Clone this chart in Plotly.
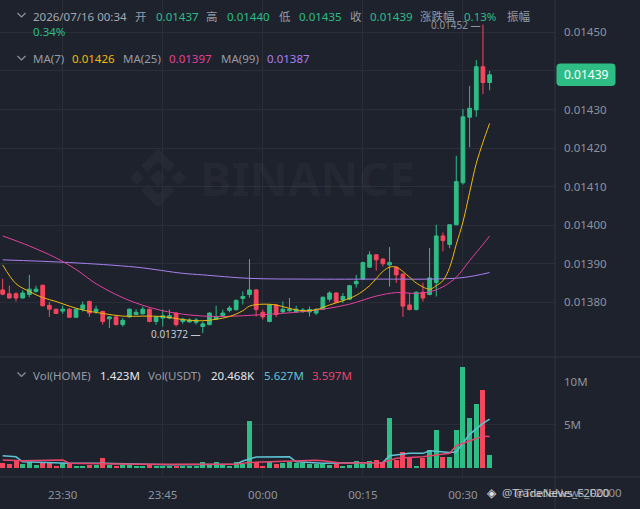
import pandas as pd
import plotly.graph_objects as go

# 1-minute candles, 23:21 -> 00:34
times = pd.date_range("2026-07-15 23:21", periods=74, freq="min")

open_ = [0.013832, 0.013822, 0.013822, 0.013811, 0.013820, 0.013828, 0.013844, 0.013792, 0.013782, 0.013777,
         0.013782, 0.013761, 0.013782, 0.013802, 0.013776, 0.013776, 0.013757, 0.013762, 0.013742, 0.013762,
         0.013768, 0.013770, 0.013782, 0.013750, 0.013759, 0.013759, 0.013772, 0.013750, 0.013749, 0.013748,
         0.013737, 0.013742, 0.013756, 0.013765, 0.013779, 0.013781, 0.013810, 0.013820, 0.013832, 0.013774,
         0.013750, 0.013793, 0.013775, 0.013778, 0.013775, 0.013776, 0.013775, 0.013772, 0.013782, 0.013808,
         0.013824, 0.013806, 0.013808, 0.013848, 0.013860, 0.013891, 0.013923, 0.013912, 0.013897, 0.013891,
         0.013873, 0.013793, 0.013781, 0.013826, 0.013820, 0.013851, 0.013972, 0.013950, 0.014001, 0.014110,
         0.014280, 0.014299, 0.014411, 0.014370]
high = [0.013861, 0.013843, 0.013826, 0.013831, 0.013871, 0.013843, 0.013846, 0.013801, 0.013783, 0.013791,
        0.013785, 0.013784, 0.013802, 0.013804, 0.013791, 0.013778, 0.013764, 0.013764, 0.013759, 0.013784,
        0.013782, 0.013789, 0.013784, 0.013764, 0.013781, 0.013781, 0.013774, 0.013760, 0.013758, 0.013759,
        0.013750, 0.013774, 0.013791, 0.013781, 0.013791, 0.013807, 0.013828, 0.013912, 0.013834, 0.013781,
        0.013795, 0.013795, 0.013802, 0.013811, 0.013791, 0.013785, 0.013789, 0.013785, 0.013815, 0.013828,
        0.013826, 0.013824, 0.013845, 0.013871, 0.013905, 0.013932, 0.013925, 0.013914, 0.013943, 0.013893,
        0.013875, 0.013824, 0.013828, 0.013851, 0.013941, 0.014001, 0.013981, 0.014001, 0.014180, 0.014301,
        0.014361, 0.014428, 0.014520, 0.014400]
low = [0.013818, 0.013810, 0.013802, 0.013810, 0.013813, 0.013825, 0.013789, 0.013762, 0.013770, 0.013770,
       0.013759, 0.013760, 0.013776, 0.013762, 0.013770, 0.013742, 0.013733, 0.013740, 0.013737, 0.013760,
       0.013767, 0.013768, 0.013748, 0.013742, 0.013737, 0.013756, 0.013737, 0.013744, 0.013747, 0.013742,
       0.013720, 0.013740, 0.013754, 0.013762, 0.013774, 0.013778, 0.013794, 0.013812, 0.013763, 0.013755,
       0.013748, 0.013762, 0.013772, 0.013776, 0.013772, 0.013772, 0.013763, 0.013767, 0.013780, 0.013802,
       0.013798, 0.013798, 0.013806, 0.013838, 0.013858, 0.013889, 0.013882, 0.013893, 0.013841, 0.013850,
       0.013762, 0.013779, 0.013779, 0.013802, 0.013818, 0.013815, 0.013932, 0.013940, 0.014000, 0.014105,
       0.014202, 0.014281, 0.014340, 0.014350]
close = [0.013821, 0.013811, 0.013811, 0.013824, 0.013834, 0.013834, 0.013791, 0.013782, 0.013771, 0.013782,
         0.013761, 0.013782, 0.013793, 0.013772, 0.013782, 0.013750, 0.013762, 0.013742, 0.013753, 0.013782,
         0.013774, 0.013782, 0.013750, 0.013762, 0.013765, 0.013765, 0.013742, 0.013756, 0.013754, 0.013754,
         0.013744, 0.013772, 0.013763, 0.013772, 0.013785, 0.013805, 0.013815, 0.013832, 0.013781, 0.013762,
         0.013793, 0.013768, 0.013782, 0.013782, 0.013782, 0.013780, 0.013781, 0.013781, 0.013813, 0.013824,
         0.013800, 0.013815, 0.013843, 0.013854, 0.013903, 0.013923, 0.013910, 0.013900, 0.013903, 0.013871,
         0.013790, 0.013781, 0.013826, 0.013811, 0.013863, 0.013972, 0.013960, 0.014001, 0.014113, 0.014281,
         0.014303, 0.014411, 0.014370, 0.014390]

# volume in millions
volume_m = [0.50, 0.39, 0.89, 0.39, 0.70, 0.31, 0.62, 0.62, 0.23, 0.47,
            0.39, 0.23, 0.23, 0.31, 0.31, 1.09, 0.31, 0.23, 0.31, 0.31,
            0.12, 0.23, 0.31, 0.23, 0.23, 0.19, 0.23, 0.19, 0.12, 0.19,
            0.62, 0.31, 0.70, 0.31, 0.23, 0.62, 0.39, 5.43, 0.70, 0.23,
            0.78, 0.39, 0.47, 0.62, 0.47, 0.47, 0.39, 0.39, 0.39, 0.31,
            0.39, 0.23, 0.31, 0.78, 0.39, 0.78, 0.89, 0.62, 5.81, 0.89,
            1.78, 1.28, 0.23, 1.16, 2.05, 4.38, 1.28, 1.28, 4.38, 11.74,
            5.74, 7.36, 9.03, 1.423]

# moving-average lines (candle index -> value)
ma7_idx = [0, 2, 4, 6, 8, 10, 12, 15, 18, 21, 24, 27, 30, 32, 34, 36, 37, 39, 41, 43, 45, 47, 49,
           51, 53, 55, 57, 58, 59, 61, 62, 64, 65, 66, 67, 68, 69, 70, 71, 72, 73]
ma7_val = [0.013897, 0.013848, 0.013828, 0.013812, 0.013802, 0.013790, 0.013780, 0.013771, 0.013764,
           0.013764, 0.013763, 0.013755, 0.013752, 0.013756, 0.013763, 0.013778, 0.013790, 0.013795,
           0.013793, 0.013784, 0.013778, 0.013781, 0.013793, 0.013804, 0.013818, 0.013843, 0.013880,
           0.013891, 0.013891, 0.013865, 0.013850, 0.013834, 0.013843, 0.013856, 0.013890, 0.013950,
           0.014008, 0.014085, 0.014160, 0.014215, 0.014264]
ma25_idx = [0, 4, 8, 11, 14, 17, 20, 24, 28, 32, 36, 40, 44, 48, 52, 56, 59, 62, 64, 66, 68, 70, 72, 73]
ma25_val = [0.013972, 0.013946, 0.013915, 0.013885, 0.013848, 0.013820, 0.013798, 0.013778, 0.013767,
            0.013763, 0.013765, 0.013769, 0.013774, 0.013782, 0.013795, 0.013816, 0.013825, 0.013823,
            0.013827, 0.013840, 0.013865, 0.013908, 0.013950, 0.013972]
ma99_idx = [0, 10, 20, 27, 30, 37, 46, 56, 60, 64, 69, 73]
ma99_val = [0.013910, 0.013903, 0.013891, 0.013875, 0.013871, 0.013862, 0.013860, 0.013860, 0.013860,
            0.013860, 0.013864, 0.013877]

vma5_idx = [0, 2, 3, 10, 15, 20, 25, 35, 36, 38, 43, 44, 47, 48, 57, 58, 61, 63, 64, 67, 68, 70, 72, 73]
vma5_val = [1.37, 1.25, 0.67, 0.50, 0.50, 0.39, 0.31, 0.39, 0.76, 1.22, 1.25, 0.67, 0.60, 0.50, 0.60,
            1.37, 1.65, 1.65, 1.95, 1.75, 1.80, 3.86, 5.14, 5.63]
vma10_idx = [0, 3, 9, 10, 20, 35, 37, 45, 47, 48, 51, 57, 59, 63, 67, 68, 70, 72, 73]
vma10_val = [0.87, 0.78, 0.87, 0.50, 0.39, 0.39, 0.60, 0.78, 0.85, 0.78, 0.50, 0.60, 1.07, 1.25, 1.65,
             2.54, 3.08, 3.65, 3.60]

price_ticks = [0.0138, 0.0139, 0.0140, 0.0141, 0.0142, 0.0143, 0.0144, 0.0145]
time_ticks = ["2026-07-15 23:30", "2026-07-15 23:45", "2026-07-16 00:00", "2026-07-16 00:15", "2026-07-16 00:30"]

BG = "#1e222d"
GRID = "#2a2e39"
SEP = "#2f3440"
GREEN = "#2ebd85"
RED = "#f6465d"
GRAY = "#8d939e"
FONT = "Noto Sans, Noto Sans CJK SC, sans-serif"

PW, PH = 555, 477  # plot area in pixels


def px(x):
	return x / PW


def py(y):
	return (PH - y) / PH


fig = go.Figure()

fig.add_trace(go.Candlestick(
	x=times, open=open_, high=high, low=low, close=close,
	increasing=dict(line=dict(color=GREEN, width=1), fillcolor=GREEN),
	decreasing=dict(line=dict(color=RED, width=1), fillcolor=RED),
	whiskerwidth=0, yaxis="y", showlegend=False, hoverinfo="skip"))

for idx, vals, clr in [(ma99_idx, ma99_val, "#a97ff0"),
                       (ma25_idx, ma25_val, "#e3409c"),
                       (ma7_idx, ma7_val, "#f0b90b")]:
	fig.add_trace(go.Scatter(x=times[idx], y=vals, mode="lines", yaxis="y",
	                         line=dict(color=clr, width=1, shape="spline"),
	                         showlegend=False, hoverinfo="skip"))

bar_colors = [GREEN if c >= o else RED for o, c in zip(open_, close)]
fig.add_trace(go.Bar(x=times, y=[v * 1e6 for v in volume_m], marker=dict(color=bar_colors, line_width=0),
                     width=45000, yaxis="y2", showlegend=False, hoverinfo="skip"))
fig.add_trace(go.Scatter(x=times[vma5_idx], y=[v * 1e6 for v in vma5_val], mode="lines", yaxis="y2",
                         line=dict(color="#5ec3d3", width=1.5), showlegend=False, hoverinfo="skip"))
fig.add_trace(go.Scatter(x=times[vma10_idx], y=[v * 1e6 for v in vma10_val], mode="lines", yaxis="y2",
                         line=dict(color="#e8456c", width=1.5), showlegend=False, hoverinfo="skip"))

split = py(357)
fig.update_layout(
	width=640, height=509, paper_bgcolor=BG, plot_bgcolor=BG,
	margin=dict(l=0, r=640 - PW, t=0, b=509 - PH),
	font=dict(family=FONT, size=11.5, color=GRAY),
	bargap=0, boxgap=0.2,
	xaxis=dict(domain=[0, 1], anchor="y2", type="date",
	           range=[pd.Timestamp("2026-07-15 23:20:36"), pd.Timestamp("2026-07-16 00:43:48")],
	           tickvals=time_ticks, tickformat="%H:%M", showgrid=True, gridcolor=GRID, gridwidth=1,
	           zeroline=False, showline=False, ticks="", ticklabelstandoff=9,
	           rangeslider=dict(visible=False), fixedrange=True),
	yaxis=dict(domain=[split, 1], side="right", anchor="x", range=[0.013658, 0.014584],
	           tickvals=price_ticks, tickformat=".5f", showgrid=True, gridcolor=GRID,
	           zeroline=False, showline=False, ticks="", ticklabelstandoff=8),
	yaxis2=dict(domain=[0, split], side="right", anchor="x", range=[-1.1e6, 12.85e6],
	            tickvals=[5e6, 10e6], ticktext=["5M", "10M"], showgrid=False,
	            zeroline=False, showline=False, ticks="", ticklabelstandoff=8),
)

shapes = [
	dict(type="line", xref="paper", yref="y2", x0=0, x1=1, y0=5e6, y1=5e6, line=dict(color=GRID, width=1), layer="below"),
	dict(type="line", xref="paper", yref="paper", x0=0, x1=px(640), y0=py(357), y1=py(357), line=dict(color=SEP, width=1)),
	dict(type="line", xref="paper", yref="paper", x0=0, x1=px(640), y0=py(477), y1=py(477), line=dict(color=SEP, width=1)),
	dict(type="line", xref="paper", yref="paper", x0=1, x1=1, y0=py(509), y1=py(0), line=dict(color=SEP, width=1)),
]

# header chevrons
for cy in [15.5, 58.5, 375]:
	shapes.append(dict(type="path", xref="paper", yref="paper",
	                   path=f"M {px(17.5)} {py(cy - 2.5)} L {px(21.5)} {py(cy + 1.5)} L {px(25.5)} {py(cy - 2.5)}",
	                   line=dict(color=GRAY, width=1.2)))

# faint BINANCE logo in the background
WM = "rgba(255,255,255,0.035)"
lx, ly, s = 158, 178, 1.05
logo_parts = [
	[(0, -8), (8, 0), (0, 8), (-8, 0)],
	[(-20, -7), (-13, 0), (-20, 7), (-27, 0)],
	[(20, -7), (27, 0), (20, 7), (13, 0)],
	[(-16, -12), (0, -28), (16, -12), (10, -6), (0, -16), (-10, -6)],
	[(-16, 12), (0, 28), (16, 12), (10, 6), (0, 16), (-10, 6)],
]
for part in logo_parts:
	pts = [f"{px(lx + s * u)} {py(ly + s * v)}" for u, v in part]
	shapes.append(dict(type="path", xref="paper", yref="paper", path="M " + " L ".join(pts) + " Z",
	                   fillcolor=WM, line=dict(width=0), layer="below"))

# current price tag
x0, x1, y0, y1, r = 556.5, 615.5, 63.5, 86, 4
tag = (f"M {px(x0 + r)} {py(y0)} L {px(x1 - r)} {py(y0)} Q {px(x1)} {py(y0)} {px(x1)} {py(y0 + r)} "
       f"L {px(x1)} {py(y1 - r)} Q {px(x1)} {py(y1)} {px(x1 - r)} {py(y1)} L {px(x0 + r)} {py(y1)} "
       f"Q {px(x0)} {py(y1)} {px(x0)} {py(y1 - r)} L {px(x0)} {py(y0 + r)} Q {px(x0)} {py(y0)} {px(x0 + r)} {py(y0)} Z")
shapes.append(dict(type="path", xref="paper", yref="paper", path=tag, fillcolor=GREEN, line=dict(width=0)))

annotations = []


def label(x, y, text, color, size=11.5, anchor="left"):
	annotations.append(dict(x=px(x), y=py(y), xref="paper", yref="paper", text=text, showarrow=False,
	                        xanchor=anchor, yanchor="middle", font=dict(color=color, size=size, family=FONT)))


LBL = "#959ba5"
label(31, 16, "2026/07/16 00:34", "#a3a8b0")
label(133, 16, "开", LBL)
label(154, 16, "0.01437", GREEN)
label(204, 16, "高", LBL)
label(225, 16, "0.01440", GREEN)
label(277, 16, "低", LBL)
label(297, 16, "0.01435", GREEN)
label(348, 16, "收", LBL)
label(368, 16, "0.01439", GREEN)
label(418, 16, "涨跌幅", LBL)
label(462, 16, "0.13%", GREEN)
label(505, 16, "振幅", LBL)
label(31, 32, "0.34%", GREEN)

label(31, 58, "MA(7)", LBL)
label(70, 58, "0.01426", "#f0b90b")
label(121, 58, "MA(25)", LBL)
label(167, 58, "0.01397", "#e3409c")
label(219, 58, "MA(99)", LBL)
label(265, 58, "0.01387", "#a97ff0")

label(31, 375, "Vol(HOME)", LBL)
label(98, 375, "1.423M", "#e4e6ea")
label(146, 375, "Vol(USDT)", LBL)
label(209, 375, "20.468K", "#e4e6ea")
label(262, 375, "5.627M", "#5ec3d3")
label(310, 375, "3.597M", "#e8456c")

label(198, 178, "<b>BINANCE</b>", WM, size=47)

label(586, 75, "0.01439", "white", size=12, anchor="center")

# high / low markers
annotations.append(dict(x=times[72], y=high[72], xref="x", yref="y", text="0.01452 —", showarrow=False,
                        xanchor="right", yanchor="middle", font=dict(color="#8d939e", size=10, family=FONT)))
annotations.append(dict(x=times[30], y=low[30], xref="x", yref="y", text="0.01372 —", showarrow=False,
                        xanchor="right", yanchor="middle", yshift=-1, font=dict(color="#c5c9d0", size=10, family=FONT)))

# watermark
label(485, 492, "◈", "#e0e0e0", size=12)
label(500, 492, "@TradeNews_F2000", "rgba(225,225,225,0.8)", size=11.5)
label(512, 492, "@TradeNews_F2000", "rgba(225,225,225,0.6)", size=11.5)

fig.update_layout(shapes=shapes, annotations=annotations)
fig.write_html("out.html", config={"displayModeBar": False},
               post_script="document.body.style.margin='0';")
